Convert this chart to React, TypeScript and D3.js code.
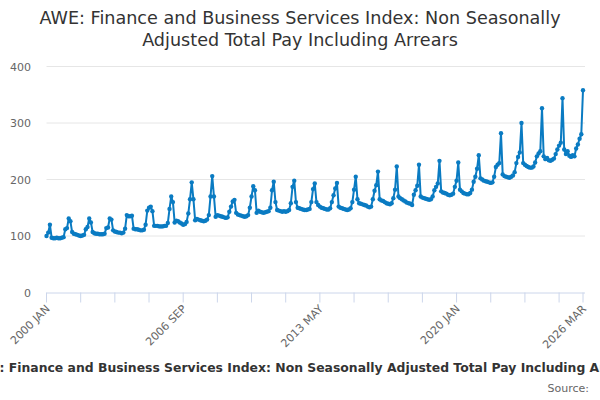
import React from "react";
import * as d3 from "d3";

const title =
  "AWE: Finance and Business Services Index: Non Seasonally Adjusted Total Pay Including Arrears";
const titleLines = [
  "AWE: Finance and Business Services Index: Non Seasonally",
  "Adjusted Total Pay Including Arrears",
];

const monthNames = ["JAN", "FEB", "MAR", "APR", "MAY", "JUN", "JUL", "AUG", "SEP", "OCT", "NOV", "DEC"];

// index values, one row per year (Jan..Dec)
const v2000 = [100, 106, 120, 97, 96, 96, 97, 96, 96, 97, 98, 112];
const v2001 = [114, 131, 126, 107, 104, 103, 102, 101, 100, 101, 102, 112];
const v2002 = [116, 131, 124, 107, 105, 104, 104, 103, 103, 103, 104, 114];
const v2003 = [115, 131, 129, 110, 108, 107, 106, 106, 105, 106, 113, 137];
const v2004 = [135, 135, 136, 113, 112, 112, 111, 110, 110, 111, 120, 145];
const v2005 = [150, 152, 144, 118, 118, 118, 117, 117, 117, 118, 118, 123];
const v2006 = [148, 170, 160, 124, 127, 126, 124, 122, 120, 121, 125, 140];
const v2007 = [165, 195, 165, 128, 130, 129, 128, 127, 126, 127, 129, 137];
const v2008 = [170, 206, 170, 134, 137, 136, 135, 134, 133, 132, 133, 143];
const v2009 = [152, 161, 164, 141, 138, 137, 136, 135, 134, 135, 137, 150];
const v2010 = [170, 188, 181, 141, 145, 143, 142, 141, 142, 143, 144, 150];
const v2011 = [181, 196, 160, 146, 145, 144, 143, 144, 143, 144, 146, 158];
const v2012 = [187, 198, 160, 150, 149, 148, 147, 146, 146, 147, 148, 160];
const v2013 = [183, 193, 160, 155, 152, 150, 149, 148, 147, 147, 149, 160];
const v2014 = [172, 184, 194, 152, 150, 149, 148, 147, 146, 147, 149, 160];
const v2015 = [182, 205, 165, 158, 157, 156, 155, 154, 152, 151, 152, 165];
const v2016 = [180, 190, 214, 165, 163, 162, 160, 158, 157, 156, 158, 167];
const v2017 = [182, 223, 170, 167, 165, 163, 161, 159, 158, 157, 155, 173];
const v2018 = [181, 189, 226, 170, 168, 167, 166, 165, 164, 165, 170, 181];
const v2019 = [187, 193, 233, 179, 177, 176, 175, 173, 172, 173, 175, 187];
const v2020 = [198, 230, 182, 179, 176, 175, 174, 174, 176, 182, 196, 205];
const v2021 = [219, 243, 202, 200, 198, 197, 196, 195, 194, 195, 205, 222];
const v2022 = [226, 229, 282, 209, 206, 205, 204, 203, 205, 207, 213, 229];
const v2023 = [240, 248, 300, 229, 226, 224, 222, 221, 221, 223, 230, 241];
const v2024 = [246, 250, 326, 241, 236, 238, 234, 233, 235, 237, 245, 253];
const v2025 = [260, 265, 344, 253, 245, 250, 242, 240, 243, 241, 255, 262];
const v2026 = [272, 280, 358];

const yearRows = [
  v2000, v2001, v2002, v2003, v2004, v2005, v2006, v2007, v2008, v2009,
  v2010, v2011, v2012, v2013, v2014, v2015, v2016, v2017, v2018, v2019,
  v2020, v2021, v2022, v2023, v2024, v2025, v2026,
];

const yTicks = [0, 100, 200, 300, 400];
const xLabelEvery = 80; // labelled tick every 80 months
const xTickEvery = 20; // tick marks every 20 months

const data = yearRows.flatMap((row, yi) =>
  row.map((value, mi) => ({ label: `${2000 + yi} ${monthNames[mi]}`, value }))
);

export default function App() {
  const width = 600;
  const height = 400;
  const left = 46.5;
  const right = 583;
  const top = 66.5;
  const bottom = 292.5;
  const n = data.length;

  const x = d3.scaleLinear().domain([0, n - 1]).range([left, right]);
  const y = d3.scaleLinear().domain([0, 400]).range([bottom, top]);

  const line = d3
    .line<{ value: number }>()
    .x((_, i) => x(i))
    .y((d) => y(d.value));

  const tickIdx = d3.range(0, n, xTickEvery).concat([n - 1]);
  const labelIdx = d3.range(0, n - 1, xLabelEvery).concat([n - 1]);

  const font = "'DejaVu Sans', Verdana, sans-serif";
  const blue = "#0a7bc2";

  return (
    <svg
      width={width}
      height={height}
      style={{ position: "absolute", left: 0, top: 0, background: "#fff" }}
      fontFamily={font}
    >
      <rect width={width} height={height} fill="#fff" />
      <text x={300} y={24} textAnchor="middle" fontSize={17.6} fill="#333">
        {titleLines.map((t, i) => (
          <tspan key={i} x={300} dy={i === 0 ? 0 : 22}>
            {t}
          </tspan>
        ))}
      </text>

      {/* grid + y labels */}
      {yTicks.map((t) => (
        <g key={t}>
          {t > 0 && (
            <line x1={left} x2={right + 2} y1={y(t)} y2={y(t)} stroke="#e6e6e6" strokeWidth={1} />
          )}
          <text x={31} y={y(t) + 4} textAnchor="end" fontSize={11} fill="#666">
            {t}
          </text>
        </g>
      ))}

      {/* x axis */}
      <line x1={left} x2={right + 2} y1={bottom + 0.5} y2={bottom + 0.5} stroke="#ccd6eb" />
      {tickIdx.map((i) => (
        <line key={i} x1={x(i)} x2={x(i)} y1={bottom} y2={bottom + 10} stroke="#ccd6eb" />
      ))}
      {labelIdx.map((i) => (
        <text
          key={i}
          transform={`translate(${x(i) + 4},${bottom + 17}) rotate(-45)`}
          textAnchor="end"
          fontSize={11}
          fill="#666"
        >
          {data[i].label}
        </text>
      ))}

      {/* series */}
      <path d={line(data) ?? ""} fill="none" stroke={blue} strokeWidth={2} strokeLinejoin="round" />
      {data.map((d, i) => (
        <circle key={i} cx={x(i)} cy={y(d.value)} r={2.2} fill={blue} />
      ))}

      <text x={305} y={372} textAnchor="middle" fontSize={12.4} fontWeight="bold" fill="#333">
        {title}
      </text>
      <text x={589} y={392} textAnchor="end" fontSize={11} fill="#666">
        Source:
      </text>
    </svg>
  );
}
